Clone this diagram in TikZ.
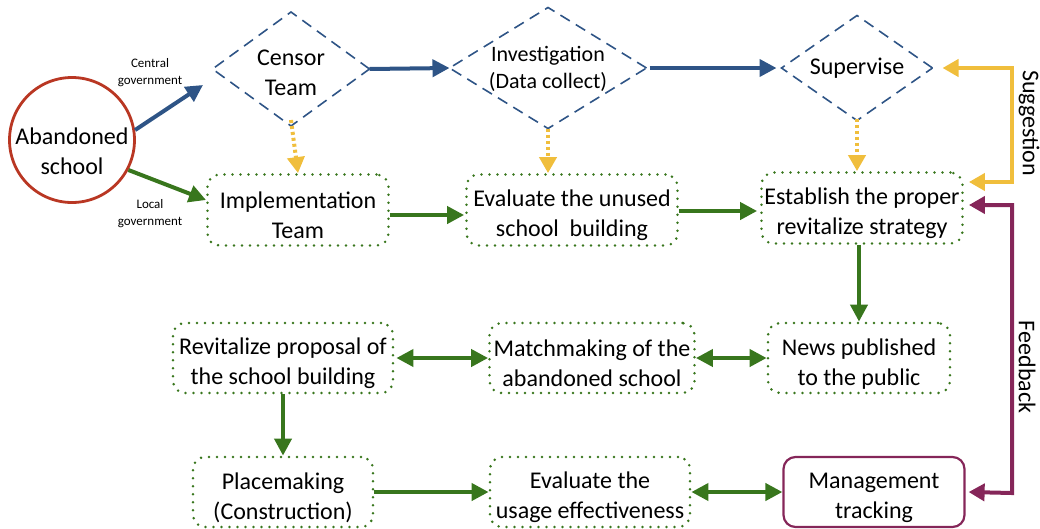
\documentclass[tikz,border=0pt]{standalone}
\usepackage{fontspec}
\setmainfont{Carlito}
\usetikzlibrary{arrows.meta,shapes.geometric}
\definecolor{cnavy}{RGB}{46,84,134}
\definecolor{cgreen}{RGB}{56,118,29}
\definecolor{cyel}{RGB}{240,190,60}
\definecolor{cpurp}{RGB}{133,38,89}
\definecolor{cred}{RGB}{185,55,35}
\newcommand{\dnstrut}{\rule{0pt}{28pt}}
\tikzset{
  big/.style={font=\fontsize{24}{30}\selectfont, align=center},
  small/.style={font=\fontsize{13}{17}\selectfont, align=center},
  gbox/.style={big, draw=cgreen, line width=2.8pt, dash pattern=on 0pt off 8pt, line cap=round,
    rounded corners=12pt, inner sep=0pt, minimum height=71pt},
  pbox/.style={big, draw=cpurp, line width=2.2pt, rounded corners=12pt, inner sep=0pt, minimum height=70pt},
  dia/.style={diamond, draw=cnavy, line width=1.6pt, dash pattern=on 11pt off 7pt, inner sep=0pt, outer sep=0pt},
  garr/.style={draw=cgreen, line width=4pt, -{Triangle[length=17pt,width=17pt]}},
  gdarr/.style={draw=cgreen, line width=4pt, {Triangle[length=17pt,width=17pt]}-{Triangle[length=17pt,width=17pt]}},
  narr/.style={draw=cnavy, line width=4pt, -{Triangle[length=17pt,width=17pt]}},
  yarr/.style={draw=cyel, line width=4pt, dash pattern=on 3pt off 3pt, -{Triangle[length=16pt,width=17pt]}},
  ysug/.style={draw=cyel, line width=4pt, {Triangle[length=16pt,width=17pt]}-{Triangle[length=16pt,width=17pt]}},
  pfb/.style={draw=cpurp, line width=4pt, {Triangle[length=16pt,width=17pt]}-{Triangle[length=16pt,width=17pt]}},
}
\begin{document}
\begin{tikzpicture}[x=1pt,y=-1pt]
\useasboundingbox (0,0) rectangle (1040,528);

% abandoned school
\node[circle, draw=cred, line width=2.8pt, minimum size=125pt, inner sep=0pt] (ab) at (72,140) {};
\node[big] (abt) at (72,151) {Abandoned\\school};

% diamonds
\node[dia, minimum width=157pt, minimum height=114pt] (d1) at (291,69) {};
\node[big] (d1t) at (291,73) {Censor\\Team};
\node[dia, minimum width=197pt, minimum height=121pt] (d2) at (548,68) {};
\node[big, font=\fontsize{22}{27}\selectfont] (d2t) at (548,69) {Investigation\\(Data collect)};
\node[dia, minimum width=151pt, minimum height=105pt] (d3) at (857,68) {};
\node[big] (d3t) at (857,68) {Supervise};

% row 2
\node[gbox, minimum width=181pt] (impl) at (298,210) {\dnstrut Implementation\\Team};
\node[gbox, minimum width=211pt] (eval) at (572,210) {\dnstrut Evaluate the unused\\school \ building};
\node[gbox, minimum width=201pt] (est) at (862,208) {\dnstrut Establish the proper\\revitalize strategy};

% row 3
\node[gbox, minimum width=220pt, minimum height=70pt] (rev) at (283,358) {\dnstrut Revitalize proposal of\\the school building};
\node[gbox, minimum width=205pt, minimum height=70pt] (match) at (592,358) {\dnstrut Matchmaking of the\\abandoned school};
\node[gbox, minimum width=182pt, minimum height=70pt] (news) at (859,358) {\dnstrut News published\\to the public};

% row 4
\node[gbox, minimum width=180pt, minimum height=70pt] (place) at (283,492) {\dnstrut Placemaking\\(Construction)};
\node[gbox, minimum width=200pt, minimum height=70pt] (evu) at (590,492) {\dnstrut Evaluate the\\usage effectiveness};
\node[pbox, minimum width=181pt] (mgmt) at (874,492) {\dnstrut Management\\tracking};

% labels
\node[small] (lc) at (150,73) {Central\\government};
\node[small] (ll) at (150,214) {Local\\government};

% connectors from school
\coordinate (cg) at (203,85);
\coordinate (lg) at (206,200);
\draw[narr] (ab.9) -- (cg);
\draw[garr] (ab.-28) -- (lg);

% blue
\draw[narr] (d1.east) -- (d2.west);
\draw[narr] ([xshift=3pt]d2.east) -- ([xshift=-5pt]d3.west);

% yellow dotted
\draw[yarr] ([yshift=6pt]d1.south) -- (impl.north);
\draw[yarr] (d2.south) -- (eval.north -| d2.south);
\draw[yarr] ([yshift=2pt]d3.south) -- (est.north -| d3.south);

% green row 2
\draw[garr] (impl.east |- 0,215) -- ([xshift=-1pt]eval.west |- 0,215);
\draw[garr] (eval.east |- 0,211) -- ([xshift=-3pt]est.west |- 0,211);
\draw[garr] (est.south -| news.north) -- (news.north);

% rows 3,4
\draw[gdarr] ([xshift=2pt]rev.east) -- (match.west);
\draw[gdarr] (match.east) -- (news.west);
\draw[garr] (rev.south) -- (place.north);
\draw[garr] (place.east) -- (evu.west);
\draw[gdarr] (evu.east) -- (mgmt.west);

% suggestion
\coordinate (s1) at (1012,68);
\coordinate (s2) at (1012,182);
\draw[ysug] ([xshift=10pt]d3.east) -- (s1) -- (s2) -- ([xshift=5pt,yshift=26pt]est.east);
\node[big, rotate=-90] (sug) at (1029,123) {Suggestion};

% feedback
\coordinate (f1) at (1012,205);
\coordinate (f2) at (1012,493);
\draw[pfb] ([xshift=5pt,yshift=3pt]est.east) -- (f1) -- (f2) -- ([xshift=3pt]mgmt.east);
\node[big, rotate=-90] (fb) at (1027,367) {Feedback};
\end{tikzpicture}
\end{document}
